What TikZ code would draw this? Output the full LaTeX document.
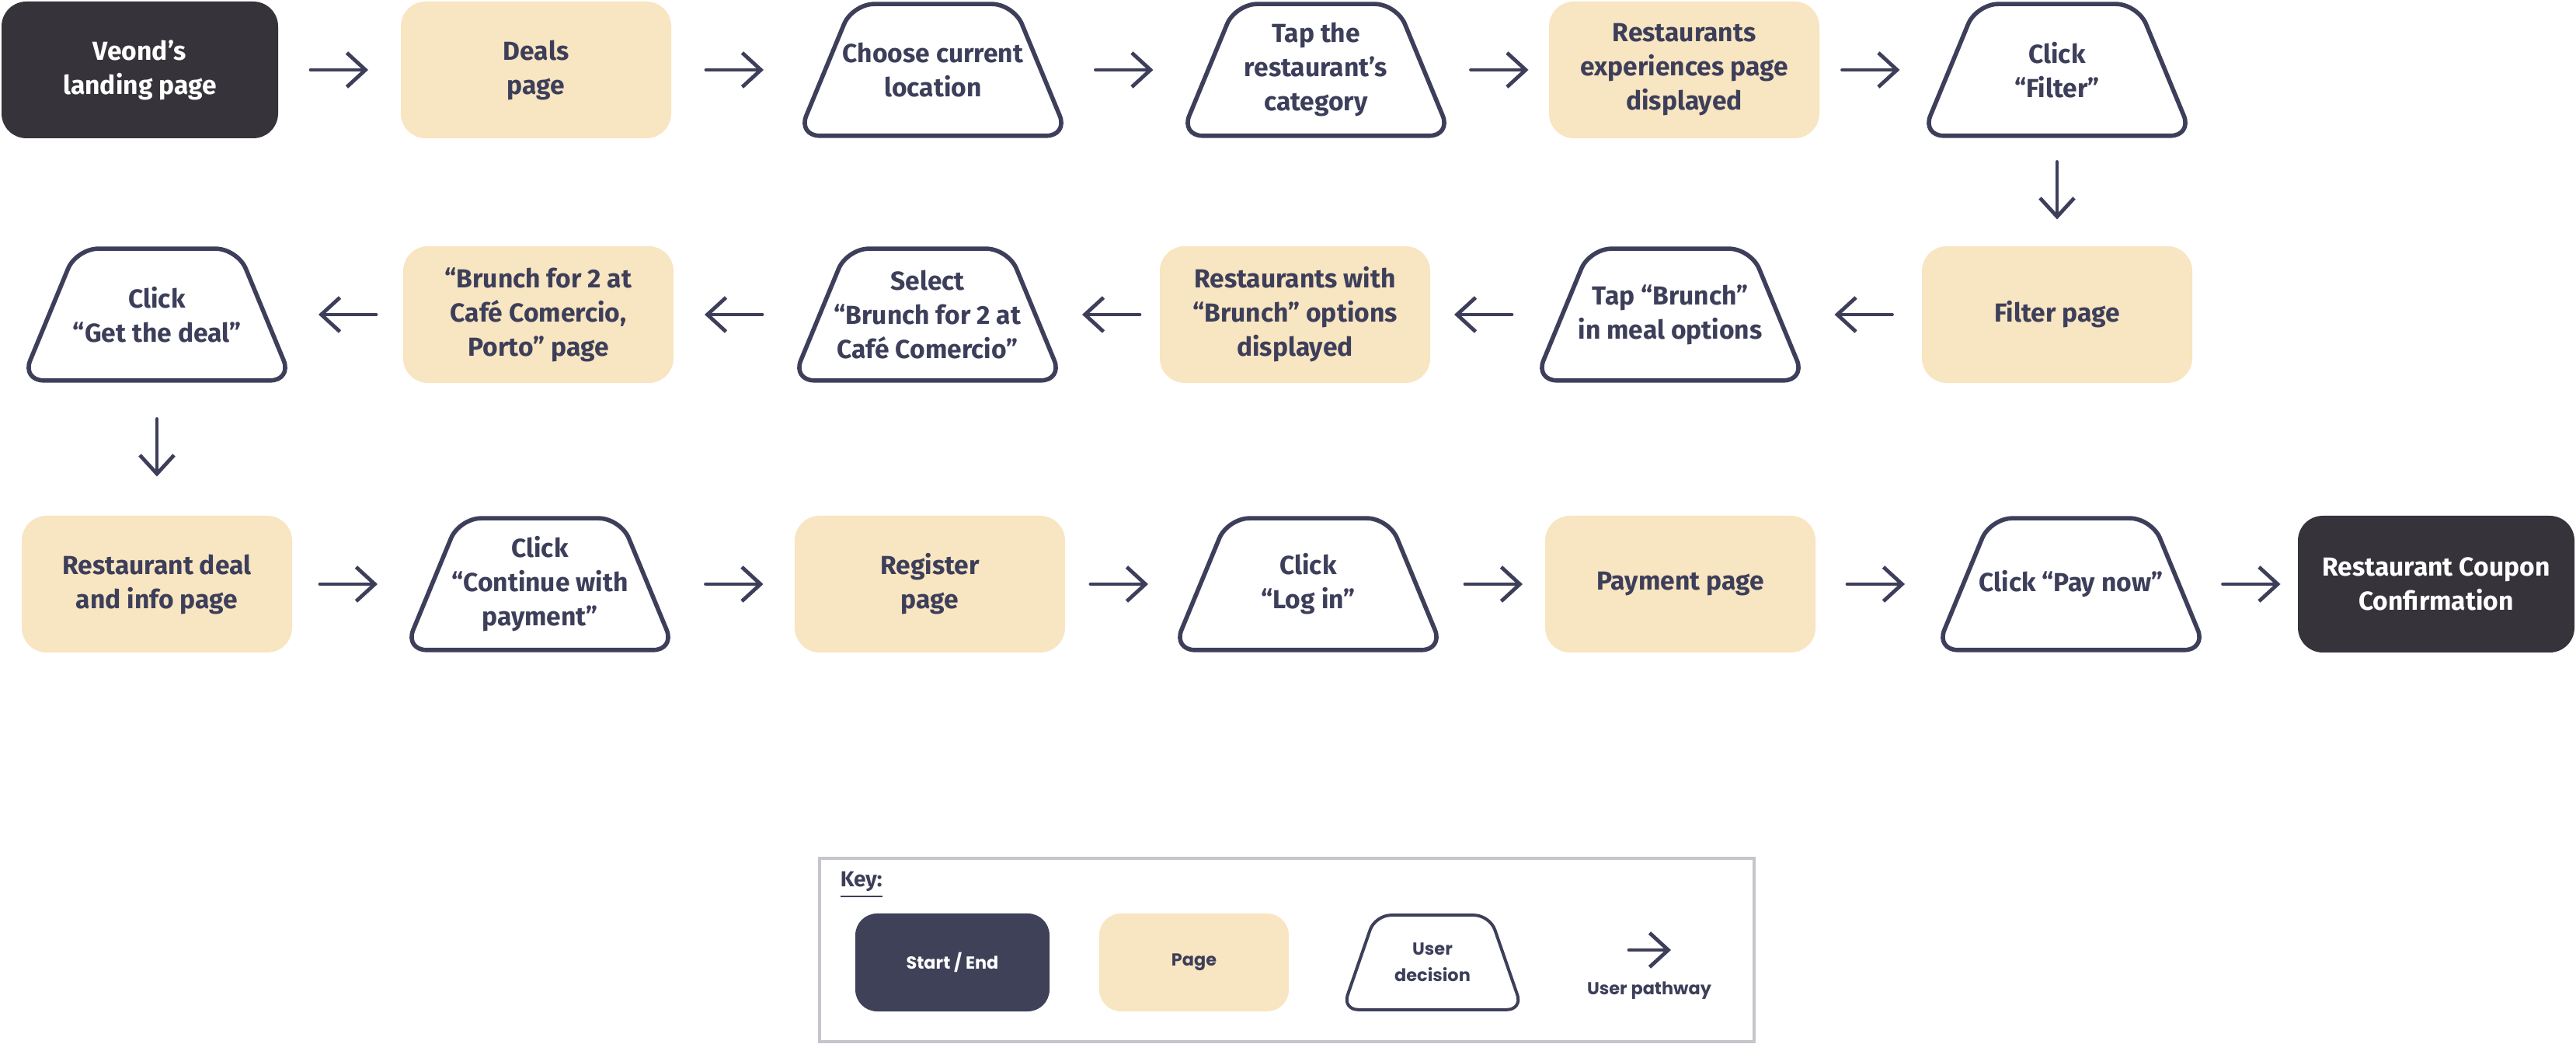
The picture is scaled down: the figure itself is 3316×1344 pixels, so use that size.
\documentclass[tikz,border=0pt]{standalone}
\usepackage{fontspec}
\setmainfont{Fira Sans}
\newfontfamily\keyfont{Poppins}
\usetikzlibrary{arrows.meta,calc}

\definecolor{inkblue}{RGB}{61,63,90}
\definecolor{darkend}{RGB}{54,51,58}
\definecolor{keyend}{RGB}{63,65,89}
\definecolor{pagefill}{RGB}{248,229,193}
\definecolor{keyline}{RGB}{198,197,204}

\tikzset{
  flowtext/.style={align=center, font=\fontsize{8.4}{11}\selectfont\bfseries, text=inkblue, inner sep=0pt},
  endbox/.style={flowtext, fill=darkend, text=white, rounded corners=8pt, minimum width=89pt, minimum height=44pt},
  pagebox/.style={flowtext, fill=pagefill, rounded corners=8pt, minimum width=87pt, minimum height=44pt},
  choicebox/.style={flowtext, minimum width=86.5pt, minimum height=42pt},
  choiceline/.style={draw=inkblue, line width=1.4pt, rounded corners=7pt, line join=round},
  flow/.style={draw=inkblue, line width=1.2pt, line cap=round, -{Straight Barb[length=6pt,width=11pt]}},
  keytext/.style={align=center, font=\keyfont\fontsize{5.6}{8.5}\selectfont\bfseries, text=inkblue, inner sep=0pt},
  keyend/.style={keytext, fill=keyend, text=white, rounded corners=7pt, minimum width=62.5pt, minimum height=31.5pt},
  keypage/.style={keytext, fill=pagefill, rounded corners=7pt, minimum width=61pt, minimum height=31.5pt},
  keychoice/.style={keytext, minimum width=57.5pt, minimum height=30pt},
}

\begin{document}
\begin{tikzpicture}[x=0.25pt,y=0.25pt,yscale=-1,xscale=1]
\useasboundingbox (0,0) rectangle (3316,1344);

%First row
\node[endbox] (landing) at (180,90) {Veond’s\\landing page};
\node[pagebox] (deals) at (690,90) {Deals\\page};
\node[choicebox] (location) at (1201,90) {Choose current\\location};
\node[choicebox] (category) at (1694,90) {Tap the\\restaurant’s\\category};
\node[pagebox] (experiences) at (2168,90) {Restaurants\\experiences page\\displayed};
\node[choicebox] (filter) at (2648,90) {Click\\“Filter”};

%Second row
\node[pagebox] (filterpage) at (2648,405) {Filter page};
\node[choicebox] (brunch) at (2150,405) {Tap “Brunch”\\in meal options};
\node[pagebox] (options) at (1667,405) {Restaurants with\\“Brunch” options\\displayed};
\node[choicebox] (select) at (1194,405) {Select\\“Brunch for 2 at\\Café Comercio”};
\node[pagebox] (brunchpage) at (693,405) {“Brunch for 2 at\\Café Comercio,\\Porto” page};
\node[choicebox] (getdeal) at (202,405) {Click\\“Get the deal”};

%Third row
\node[pagebox] (dealinfo) at (202,752) {Restaurant deal\\and info page};
\node[choicebox] (continue) at (695,752) {Click\\“Continue with\\payment”};
\node[pagebox] (register) at (1197,752) {Register\\page};
\node[choicebox] (login) at (1684,752) {Click\\“Log in”};
\node[pagebox] (payment) at (2163,752) {Payment page};
\node[choicebox] (paynow) at (2666,752) {Click “Pay now”};
\node[endbox] (coupon) at (3136,752) {Restaurant Coupon\\Confirmation};

%User decision outlines
\foreach \n in {location, category, filter, brunch, select, getdeal, continue, login, paynow}
  \draw[choiceline] (\n.south west) -- ($(\n.north west)+(70,0)$) -- ($(\n.north east)+(-70,0)$) -- (\n.south east) -- cycle;

%User pathway arrows
\foreach \a/\b in {landing/deals, deals/location, location/category, category/experiences,
  experiences/filter, filter/filterpage, filterpage/brunch, brunch/options, options/select,
  select/brunchpage, brunchpage/getdeal, getdeal/dealinfo, dealinfo/continue,
  continue/register, register/login, login/payment, payment/paynow, paynow/coupon} {
  \path (\a) -- (\b) coordinate[pos=0.5] (mid);
  \draw[flow] ($(mid)!9.25pt!(\a)$) -- ($(mid)!9.25pt!(\b)$);
}

%Key
\draw[keyline, line width=1pt] (1055,1105) rectangle (2258,1341);
\node[flowtext, font=\fontsize{7}{8}\selectfont\bfseries, anchor=south west] (keytitle) at (1081,1157) {\underline{Key:}};
\node[keyend] (kstart) at (1226,1239) {Start / End};
\node[keypage] (kpage) at (1537,1239) {Page};
\node[keychoice] (kchoice) at (1844,1239) {User\\decision};
\draw[choiceline, line width=1pt, rounded corners=5pt] (kchoice.south west) -- ($(kchoice.north west)+(42,0)$) -- ($(kchoice.north east)+(-42,0)$) -- (kchoice.south east) -- cycle;
\coordinate (kfrom) at (2097,1223);
\coordinate (kto) at (2151,1223);
\draw[flow] (kfrom) -- (kto);
\node[keytext] (kpath) at (2123,1275) {User pathway};

\end{tikzpicture}
\end{document}
